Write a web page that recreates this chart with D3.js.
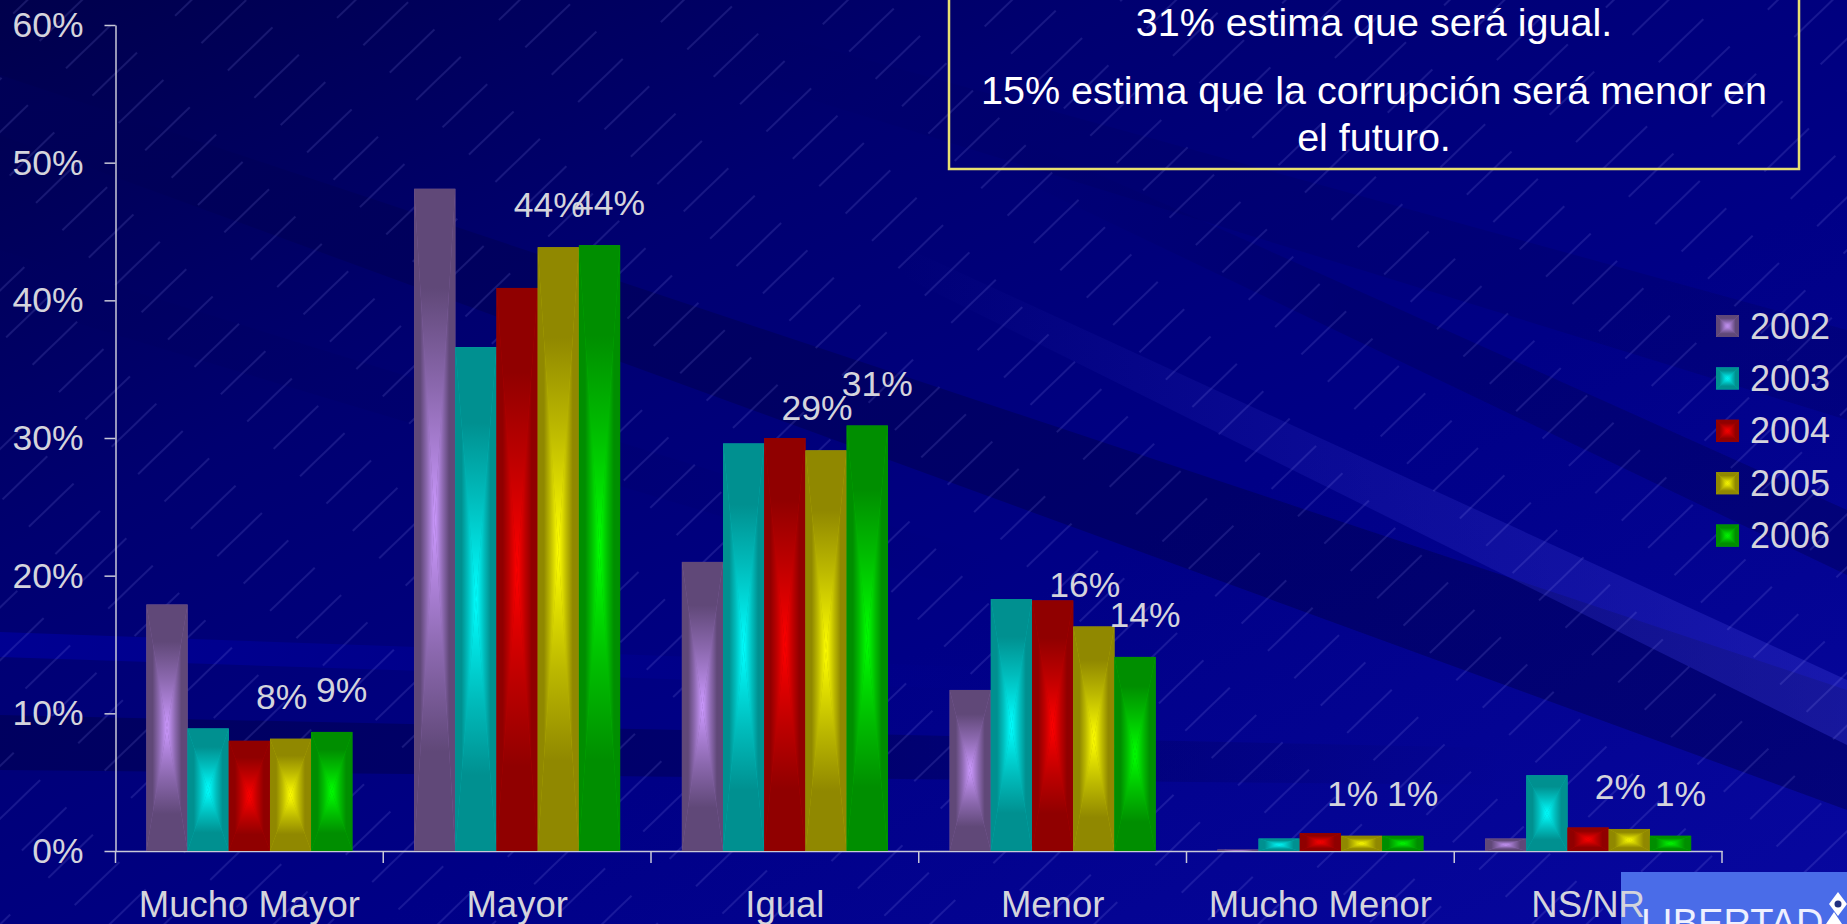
<!DOCTYPE html>
<html><head><meta charset="utf-8">
<script src="https://cdn.jsdelivr.net/npm/d3@7"></script>
<style>html,body{margin:0;padding:0;background:#000080;overflow:hidden}text{font-family:"Liberation Sans",Arial,sans-serif}</style>
</head><body><svg id="c" width="1847" height="924"></svg>
<script>
// ---------- data ----------
const categories = ["Mucho Mayor", "Mayor", "Igual", "Menor", "Mucho Menor", "NS/NR"];
const years = ["2002", "2003", "2004", "2005", "2006"];
const v2002 = [17.9, 48.1, 21.0, 11.7, 0.1, 0.9];
const v2003 = [8.9, 36.6, 29.6, 18.3, 0.9, 5.5];
const v2004 = [8.0, 40.9, 30.0, 18.2, 1.3, 1.7];
const v2005 = [8.15, 43.85, 29.1, 16.3, 1.1, 1.6];
const v2006 = [8.65, 44.0, 30.9, 14.1, 1.1, 1.1];
const yTicks = [0, 10, 20, 30, 40, 50, 60];
const labeledYears = ["2005", "2006"];
const noteLines = ["31% estima que será igual.", "15% estima que la corrupción será menor en", "el futuro."];
const logoText = "LIBERTAD";

// ---------- styles ----------
const darkColors = ["#604878", "#009090", "#900000", "#908800", "#008e00"];
const brightColors = ["#cc99ff", "#00ffff", "#ff0000", "#ffff00", "#00ff00"];
const textColor = "#d4d4dc";

const seriesValues = [v2002, v2003, v2004, v2005, v2006];
const W = 1847, H = 924;
const svg = d3.select("#c");
const defs = svg.append("defs");

// ---------- background ----------
const bg = defs.append("linearGradient").attr("id", "bg")
  .attr("x1", 0).attr("y1", 0).attr("x2", 1).attr("y2", 1);
[[0, "#00004c"], [0.3, "#000070"], [0.6, "#000086"], [1, "#0808a0"]]
  .forEach(([o, c]) => bg.append("stop").attr("offset", o).attr("stop-color", c));
svg.append("rect").attr("width", W).attr("height", H).attr("fill", "url(#bg)");

function bandGrad(id, color, stops) {
  const g = defs.append("linearGradient").attr("id", id).attr("x1", 0).attr("y1", 0).attr("x2", 1).attr("y2", 0);
  stops.forEach(([o, op]) => g.append("stop").attr("offset", o).attr("stop-color", color).attr("stop-opacity", op));
  return `url(#${id})`;
}
const bands = [
  {pts: [[0, 75], [1847, 690], [1847, 810], [0, 135]], f: bandGrad("b1", "#000058", [[0, 0.75], [0.6, 0.6], [1, 0.5]])},
  {pts: [[0, 250], [1000, 560], [1000, 600], [0, 300]], f: bandGrad("b2", "#000060", [[0, 0.4], [1, 0]])},
  {pts: [[0, 715], [1500, 748], [1500, 785], [0, 770]], f: bandGrad("b3", "#000058", [[0, 0.75], [0.6, 0.5], [1, 0]])},
  {pts: [[0, 632], [1000, 668], [1000, 690], [0, 657]], f: bandGrad("b4", "#0000b0", [[0, 0.5], [1, 0]])},
  {pts: [[900, 245], [1847, 680], [1847, 745], [900, 275]], f: bandGrad("b5", "#3030c8", [[0, 0], [0.5, 0.25], [1, 0.45]])},
  {pts: [[1000, 130], [1847, 510], [1847, 575], [1000, 170]], f: bandGrad("b6", "#000060", [[0, 0], [0.4, 0.45], [1, 0.5]])},
  {pts: [[650, 0], [1847, 330], [1847, 420], [650, 50]], f: bandGrad("b7", "#000064", [[0, 0], [0.3, 0.35], [1, 0.35]])}
];
svg.append("g").selectAll("polygon").data(bands).join("polygon")
  .attr("points", d => d.pts.map(p => p.join(",")).join(" "))
  .attr("fill", d => d.f);

const pat = defs.append("pattern").attr("id", "hatch").attr("patternUnits", "userSpaceOnUse")
  .attr("width", 115).attr("height", 38).attr("patternTransform", "rotate(-44)");
pat.append("line").attr("x1", 0).attr("y1", 19).attr("x2", 62).attr("y2", 19)
  .attr("stroke", "#a0a0ff").attr("stroke-opacity", 0.33).attr("stroke-width", 0.9);
svg.append("rect").attr("width", W).attr("height", H).attr("fill", "url(#hatch)");

// ---------- note box ----------
const boxX = 949, boxR = 1799, boxB = 169;
svg.append("rect").attr("x", boxX).attr("y", -10).attr("width", boxR - boxX).attr("height", boxB + 10)
  .attr("fill", "none").attr("stroke", "#e8e070").attr("stroke-width", 2.5);
const noteY = [36, 104, 151];
svg.selectAll("text.note").data(noteLines).join("text").attr("class", "note")
  .attr("x", (boxX + boxR) / 2).attr("y", (d, i) => noteY[i])
  .attr("text-anchor", "middle").attr("fill", "#ffffff").attr("font-size", 39.5).text(d => d);

// ---------- logo ----------
svg.append("rect").attr("x", 1621).attr("y", 872).attr("width", W - 1621).attr("height", H - 872).attr("fill", "#4a6ce8");
svg.append("text").attr("x", 1641).attr("y", 936).attr("fill", "#eef0ff").attr("font-size", 38).text(logoText);
svg.append("path").attr("d", "M1838,892 L1847,904 L1838,916 L1829,904 Z").attr("fill", "#ffffff");
svg.append("circle").attr("cx", 1838).attr("cy", 904).attr("r", 3.5).attr("fill", "#203080");
svg.append("path").attr("d", "M1826,924 L1834,912 L1842,924 Z").attr("fill", "#ffffff");

// ---------- scales ----------
const x0 = d3.scaleBand().domain(categories).range([115.5, 1722]).padding(0);
const x1 = d3.scaleBand().domain(years).range([0, x0.bandwidth()]).paddingInner(0).paddingOuter(0.75);
const y = d3.scaleLinear().domain([0, 60]).range([851, 25]);

// ---------- gradients for bars ----------
years.forEach((yr, i) => {
  const dark = darkColors[i], bright = brightColors[i];
  const mid = d3.interpolateRgb(dark, bright)(0.4);
  const specs = [
    ["gt", 0, 0, 0, 1], ["gb", 0, 1, 0, 0], ["gl", 0, 0, 1, 0], ["gr", 1, 0, 0, 0]
  ];
  specs.forEach(([p, a, b, c, d]) => {
    const g = defs.append("linearGradient").attr("id", `${p}${yr}`)
      .attr("x1", a).attr("y1", b).attr("x2", c).attr("y2", d);
    g.append("stop").attr("offset", 0).attr("stop-color", dark);
    g.append("stop").attr("offset", 0.3).attr("stop-color", dark);
    g.append("stop").attr("offset", 0.6).attr("stop-color", mid);
    g.append("stop").attr("offset", 1).attr("stop-color", bright);
  });
});

function pyramid(g, x, yy, w, h, yr, i) {
  const cx = x + w / 2, cy = yy + h / 2;
  const mid = d3.interpolateRgb(darkColors[i], brightColors[i])(0.35);
  g.append("rect").attr("x", x).attr("y", yy).attr("width", w).attr("height", h).attr("fill", mid);
  const tris = [
    [[x, yy], [x + w, yy], [cx, cy], "gt"],
    [[x, yy + h], [x + w, yy + h], [cx, cy], "gb"],
    [[x, yy], [x, yy + h], [cx, cy], "gl"],
    [[x + w, yy], [x + w, yy + h], [cx, cy], "gr"]
  ];
  tris.forEach(t => {
    if (h <= 0.5) return;
    g.append("polygon").attr("points", t.slice(0, 3).map(p => p.join(",")).join(" "))
      .attr("fill", `url(#${t[3]}${yr})`);
  });
}

// ---------- axes ----------
const yAxis = d3.axisLeft(y).tickValues(yTicks).tickSize(11).tickPadding(21).tickSizeOuter(0)
  .tickFormat(d => d + "%");
const yG = svg.append("g").attr("transform", `translate(${x0.range()[0]},0)`).call(yAxis);
yG.select(".domain").attr("stroke", "#c8c8d8").attr("stroke-width", 1.5);
yG.selectAll(".tick line").attr("stroke", "#c8c8d8").attr("stroke-width", 1.5);
yG.selectAll(".tick text").attr("fill", textColor).attr("font-size", 35.5).attr("font-family", '"Liberation Sans",Arial,sans-serif');

const xAxis = d3.axisBottom(x0).tickSize(0).tickPadding(40).tickSizeOuter(0);
const xG = svg.append("g").attr("transform", `translate(0,${y(0)})`).call(xAxis);
xG.select(".domain").attr("stroke", "#c8c8d8").attr("stroke-width", 1.5);
xG.selectAll(".tick text").attr("fill", textColor).attr("font-size", 36.5).attr("font-family", '"Liberation Sans",Arial,sans-serif');
const bounds = d3.range(categories.length + 1).map(i => x0.range()[0] + i * x0.step());
svg.append("g").selectAll("line").data(bounds).join("line")
  .attr("x1", d => d).attr("x2", d => d).attr("y1", y(0)).attr("y2", y(0) + 12)
  .attr("stroke", "#c8c8d8").attr("stroke-width", 1.5);

// ---------- bars ----------
const barsG = svg.append("g");
categories.forEach((cat, ci) => {
  years.forEach((yr, si) => {
    const v = seriesValues[si][ci];
    const bx = x0(cat) + x1(yr), bw = x1.bandwidth();
    const top = y(v), bh = y(0) - y(v);
    pyramid(barsG, bx, top, bw, bh, yr, si);
  });
});

// ---------- data labels ----------
const labelDx = {"2005": -9, "2006": 10};
const labelsG = svg.append("g");
categories.forEach((cat, ci) => {
  labeledYears.forEach(yr => {
    const si = years.indexOf(yr);
    const v = seriesValues[si][ci];
    labelsG.append("text")
      .attr("x", x0(cat) + x1(yr) + x1.bandwidth() / 2 + labelDx[yr])
      .attr("y", y(v) - 30)
      .attr("text-anchor", "middle").attr("fill", textColor).attr("font-size", 35.5)
      .text(Math.round(v) + "%");
  });
});

// ---------- legend ----------
const legG = svg.append("g");
years.forEach((yr, i) => {
  const cy = 326 + i * 52.4;
  pyramid(legG, 1716, cy - 11, 23, 22, yr, i);
  legG.append("text").attr("x", 1750).attr("y", cy + 12.5).attr("fill", textColor)
    .attr("font-size", 36).text(yr);
});
</script></body></html>
